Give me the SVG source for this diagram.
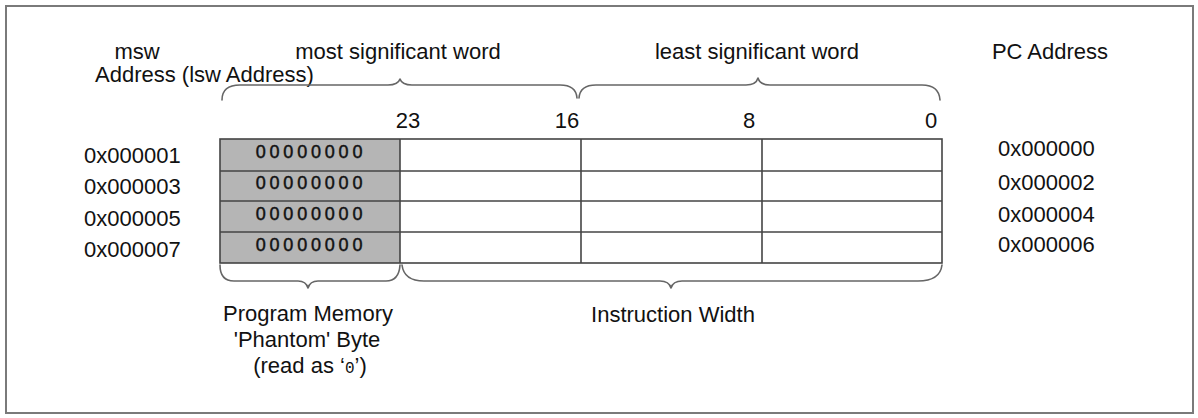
<svg xmlns="http://www.w3.org/2000/svg" width="1198" height="418" viewBox="0 0 1198 418">
  <style>
    .t { font-family: "Liberation Sans", Arial, sans-serif; font-size: 22px; fill: #111; }
    .m { text-anchor: middle; }
    .z { font-family: "Liberation Sans", Arial, sans-serif; font-size: 18px; fill: #111; stroke: #111; stroke-width: 0.45; letter-spacing: 3.8px; text-anchor: middle; }
    .grid { fill: none; stroke: #444; stroke-width: 1.6; }
    .brace { fill: none; stroke: #666; stroke-width: 1.6; stroke-linecap: round; stroke-linejoin: round; }
  </style>
  <rect x="0" y="0" width="1198" height="418" fill="#ffffff"/>
  <rect id="frame" x="6" y="6" width="1187" height="407" fill="none" stroke="#7a7a7a" stroke-width="2"/>

  <g id="headers">
    <text class="t m" x="137" y="59">msw</text>
    <text class="t" x="95" y="82">Address (lsw Address)</text>
    <text class="t m" x="398" y="59">most significant word</text>
    <text class="t m" x="757" y="59">least significant word</text>
    <text class="t m" x="1050" y="59">PC Address</text>
  </g>

  <g id="bit-labels">
    <text class="t m" x="408" y="128">23</text>
    <text class="t m" x="567" y="128">16</text>
    <text class="t m" x="749" y="128">8</text>
    <text class="t m" x="931" y="128">0</text>
  </g>

  <g id="phantom-column">
    <rect x="220" y="139" width="180" height="124" fill="#b5b5b5"/>
    <text class="z" x="311" y="158">00000000</text>
    <text class="z" x="311" y="189">00000000</text>
    <text class="z" x="311" y="220">00000000</text>
    <text class="z" x="311" y="251">00000000</text>
  </g>

  <g id="memory-table">
    <rect class="grid" x="220" y="139" width="722" height="124"/>
    <line class="grid" x1="220" y1="171" x2="942" y2="171"/>
    <line class="grid" x1="220" y1="201" x2="942" y2="201"/>
    <line class="grid" x1="220" y1="232" x2="942" y2="232"/>
    <line class="grid" x1="400" y1="139" x2="400" y2="263"/>
    <line class="grid" x1="581" y1="139" x2="581" y2="263"/>
    <line class="grid" x1="762" y1="139" x2="762" y2="263"/>
  </g>

  <g id="msw-addresses">
    <text class="t" x="84" y="163">0x000001</text>
    <text class="t" x="84" y="194">0x000003</text>
    <text class="t" x="84" y="226">0x000005</text>
    <text class="t" x="84" y="257">0x000007</text>
  </g>

  <g id="pc-addresses">
    <text class="t" x="998" y="156">0x000000</text>
    <text class="t" x="998" y="190">0x000002</text>
    <text class="t" x="998" y="222">0x000004</text>
    <text class="t" x="998" y="252">0x000006</text>
  </g>

  <g id="connectors">
    <!-- top braces -->
    <path class="brace" d="M222,100 Q222,85 240,85 L388,85 Q398,85 400,79 Q402,85 412,85 L560,85 Q576,85 577,98"/>
    <path class="brace" d="M579,98 Q580,85 596,85 L746,85 Q756,85 758,78 Q760,85 770,85 L922,85 Q939,85 940,100"/>
    <!-- bottom braces -->
    <path class="brace" d="M220,265 Q220,281 234,281 L298,281 Q306,281 308,288 Q310,281 318,281 L386,281 Q399,281 400,265"/>
    <path class="brace" d="M402,265 Q404,281 424,281 L660,281 Q669,281 671,288 Q673,281 682,281 L918,281 Q940,281 942,265"/>
  </g>

  <g id="bottom-labels">
    <text class="t m" x="308" y="321">Program Memory</text>
    <text class="t m" x="307" y="347">'Phantom' Byte</text>
    <text class="t m" x="310" y="373">(read as ‘<tspan font-family="Liberation Mono, monospace" font-size="16">0</tspan>’)</text>
    <text class="t m" x="673" y="322">Instruction Width</text>
  </g>
</svg>
